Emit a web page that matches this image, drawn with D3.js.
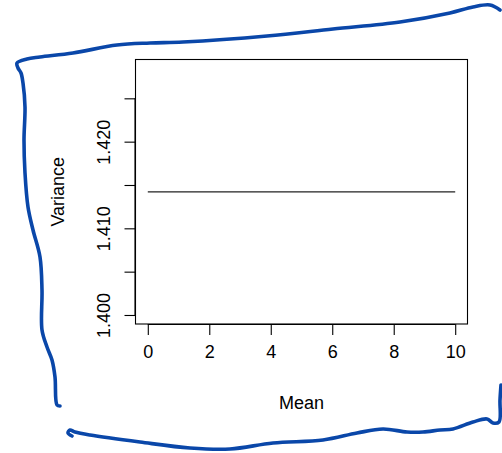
<!DOCTYPE html>
<html>
<head>
<meta charset="utf-8">
<script src="https://cdn.jsdelivr.net/npm/d3@7"></script>
<style>
  html, body { margin: 0; padding: 0; background: #fff; }
  svg { display: block; }
  text { font-family: "Liberation Sans", Arial, Helvetica, sans-serif; fill: #000; }
</style>
</head>
<body>
<svg id="chart" width="502" height="453"></svg>
<script>
// ---- data ----
const means = [0, 1, 2, 3, 4, 5, 6, 7, 8, 9, 10];
const variances = [1.41421, 1.41421, 1.41421, 1.41421, 1.41421, 1.41421, 1.41421, 1.41421, 1.41421, 1.41421, 1.41421];
const xTicks = [0, 2, 4, 6, 8, 10];
const yTicks = [1.400, 1.405, 1.410, 1.415, 1.420, 1.425];
const yTickLabels = ["1.400", "", "1.410", "", "1.420", ""];
const xLabel = "Mean";
const yLabel = "Variance";

// hand-drawn annotation frame (decoration)
const frameTopLeft = [[500,10],[490,5],[473,7],[450,13],[400,22],[333,29],[267,36],[183,42],[150,43],[117,45],[73,53],[40,57],[27,59],[17,63],[18,68],[21,73],[23,83],[25,107],[24,140],[25,173],[28,207],[33,230],[40,257],[42,290],[42,330],[47,347],[52,360],[55,377],[57,405],[60,406]];
const frameBottom = [[72,436],[68,433],[70,430],[75,432],[90,435],[140,442],[190,448],[230,449],[273,443],[323,440],[357,433],[383,429],[407,432],[423,432],[440,430],[453,429],[473,422],[487,419],[493,423],[499,422],[500,400],[501,385]];

const svg = d3.select("#chart");
const plot = { left: 135.5, right: 467.5, top: 59.5, bottom: 324 };

const x = d3.scaleLinear().domain([-0.4, 10.4]).range([plot.left, plot.right]);
const y = d3.scaleLinear().domain([1.39896, 1.42948]).range([plot.bottom, plot.top]);

const fs = 18;
const ff = "Liberation Sans, Arial, sans-serif";

// box
svg.append("rect")
  .attr("x", plot.left).attr("y", plot.top)
  .attr("width", plot.right - plot.left).attr("height", plot.bottom - plot.top)
  .attr("fill", "none").attr("stroke", "#000").attr("stroke-width", 1.1);

// x axis
const xAxis = d3.axisBottom(x).tickValues(xTicks).tickSize(11).tickPadding(10).tickFormat(d3.format("d"));
const gx = svg.append("g").attr("transform", `translate(0,${plot.bottom})`).call(xAxis);
gx.select(".domain").attr("d", `M${x(xTicks[0])},0.5H${x(xTicks[xTicks.length-1])}`).attr("stroke", "#000").attr("stroke-width", 1.1);
gx.selectAll(".tick line").attr("stroke", "#000").attr("stroke-width", 1.1);
gx.selectAll(".tick text").attr("font-size", fs).attr("font-family", ff).attr("fill", "#000");

// y axis
const yAxis = d3.axisLeft(y).tickValues(yTicks).tickSize(11).tickPadding(0).tickFormat((d, i) => yTickLabels[i]);
const gy = svg.append("g").attr("transform", `translate(${plot.left},0)`).call(yAxis);
gy.select(".domain").attr("d", `M-0.5,${y(yTicks[0])}V${y(yTicks[yTicks.length-1])}`).attr("stroke", "#000").attr("stroke-width", 1.1);
gy.selectAll(".tick line").attr("stroke", "#000").attr("stroke-width", 1.1);
gy.selectAll(".tick text")
  .attr("font-size", fs).attr("font-family", ff).attr("fill", "#000")
  .attr("x", null).attr("dy", null)
  .attr("text-anchor", "middle")
  .attr("transform", "translate(-25.5,0) rotate(-90)");

// line
const line = d3.line().x((d, i) => x(means[i])).y(d => y(d));
svg.append("path")
  .datum(variances)
  .attr("d", line)
  .attr("fill", "none").attr("stroke", "#222").attr("stroke-width", 1.3);

// axis titles
svg.append("text").attr("x", (plot.left + plot.right) / 2).attr("y", 408.5)
  .attr("text-anchor", "middle").attr("font-size", fs).text(xLabel);
svg.append("text")
  .attr("transform", `translate(64,${(plot.top + plot.bottom) / 2}) rotate(-90)`)
  .attr("text-anchor", "middle").attr("font-size", fs).text(yLabel);

// annotation frame
const pen = d3.line().curve(d3.curveCatmullRom.alpha(0.5));
[frameTopLeft, frameBottom].forEach(pts => {
  svg.append("path").attr("d", pen(pts))
    .attr("fill", "none").attr("stroke", "#0a47a9").attr("stroke-width", 3.6)
    .attr("stroke-linecap", "round").attr("stroke-linejoin", "round");
});
</script>
</body>
</html>
